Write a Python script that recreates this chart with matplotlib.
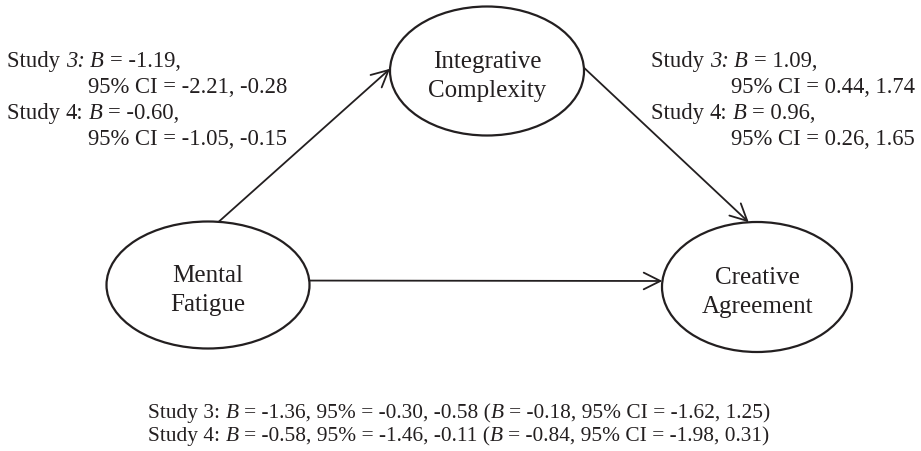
import matplotlib.pyplot as plt
import numpy as np
from matplotlib.patches import Ellipse

# path model values
studies = [3, 4]
a_B = [-1.19, -0.60]            # Mental Fatigue -> Integrative Complexity
a_ci = [(-2.21, -0.28), (-1.05, -0.15)]
b_B = [1.09, 0.96]              # Integrative Complexity -> Creative Agreement
b_ci = [(0.44, 1.74), (0.26, 1.65)]
c_B = [-1.36, -0.58]            # total effect
c_ci = [(-0.30, -0.58), (-1.46, -0.11)]
cp_B = [-0.18, -0.84]           # direct effect
cp_ci = [(-1.62, 1.25), (-1.98, 0.31)]
italic_study = [True, False]    # the figure sets "3:" in italics on the a/b paths

node_names = [("Mental", "Fatigue"), ("Integrative", "Complexity"), ("Creative", "Agreement")]

plt.rcParams['font.family'] = ['Liberation Serif', 'DejaVu Serif']

ink = '#231f20'

fig = plt.figure(figsize=(9.21, 4.52), dpi=100)
ax = fig.add_axes([0, 0, 1, 1])
ax.set_xlim(0, 921)
ax.set_ylim(452, 0)
ax.axis('off')
renderer = fig.canvas.get_renderer()

# node layout (pixels): center x, center y, width, height
layout = [(208, 286, 203, 127), (487, 72, 194, 129), (757, 288, 190, 130)]

for (cx, cy, w, h), (l1, l2) in zip(layout, node_names):
    ax.add_patch(Ellipse((cx, cy), w, h, fill=False, ec=ink, lw=1.6))
    ax.text(cx, cy - 4, l1, ha='center', va='baseline', fontsize=18, color=ink)
    ax.text(cx, cy + 25, l2, ha='center', va='baseline', fontsize=18, color=ink)


def on_ellipse(i, deg):
    cx, cy, w, h = layout[i]
    t = np.radians(deg)
    return cx + w / 2 * np.cos(t), cy - h / 2 * np.sin(t)


def arrow(p0, p1):
    ax.annotate('', xy=p1, xytext=p0,
                arrowprops=dict(arrowstyle='->,head_length=0.6,head_width=0.3',
                                color=ink, lw=1.3, shrinkA=0, shrinkB=0,
                                mutation_scale=20))


arrow(on_ellipse(0, 84), on_ellipse(1, 178))
arrow(on_ellipse(1, 3), on_ellipse(2, 95))
arrow(on_ellipse(0, 4), on_ellipse(2, 174.7))


def width_of(s, size, italic=False):
    t = ax.text(0, 0, s, fontsize=size, style='italic' if italic else 'normal')
    w = t.get_window_extent(renderer).width
    t.remove()
    return w


def advance(s, size, italic=False):
    # pen advance of s, measured between two anchor glyphs
    return width_of("n" + s + "n", size, italic) - width_of("nn", size, italic)


def rich(x, y, parts, size):
    # parts: list of (text, italic)
    for s, it in parts:
        lead = len(s) - len(s.lstrip(' '))
        core = s.lstrip(' ')
        x += advance(" " * lead, size) if lead else 0
        if core:
            ax.text(x, y, core, va='baseline', fontsize=size, color=ink,
                    style='italic' if it else 'normal')
            x += advance(core, size, it)


def path_lines(B, ci, x0, x1, size=16.3):
    base = [67, 93, 119, 145]
    k = 0
    for s, it, b, (lo, hi) in zip(studies, italic_study, B, ci):
        rich(x0, base[k], [("Study ", False), (f"{s}:", it), (" ", False),
                           ("B", True), (f" = {b:.2f},", False)], size)
        rich(x1, base[k + 1], [(f"95% CI = {lo:.2f}, {hi:.2f}", False)], size)
        k += 2


path_lines(a_B, a_ci, 7, 88)
path_lines(b_B, b_ci, 651, 731)

for k, (s, c, (lo, hi), cp, (lo2, hi2)) in enumerate(zip(studies, c_B, c_ci, cp_B, cp_ci)):
    parts = [(f"Study {s}: ", False), ("B", True),
             (f" = {c:.2f}, 95% = {lo:.2f}, {hi:.2f} (", False), ("B", True),
             (f" = {cp:.2f}, 95% CI = {lo2:.2f}, {hi2:.2f})", False)]
    rich(148, 418 + 23 * k, parts, 15.4)

plt.savefig('out.png', dpi=100)
